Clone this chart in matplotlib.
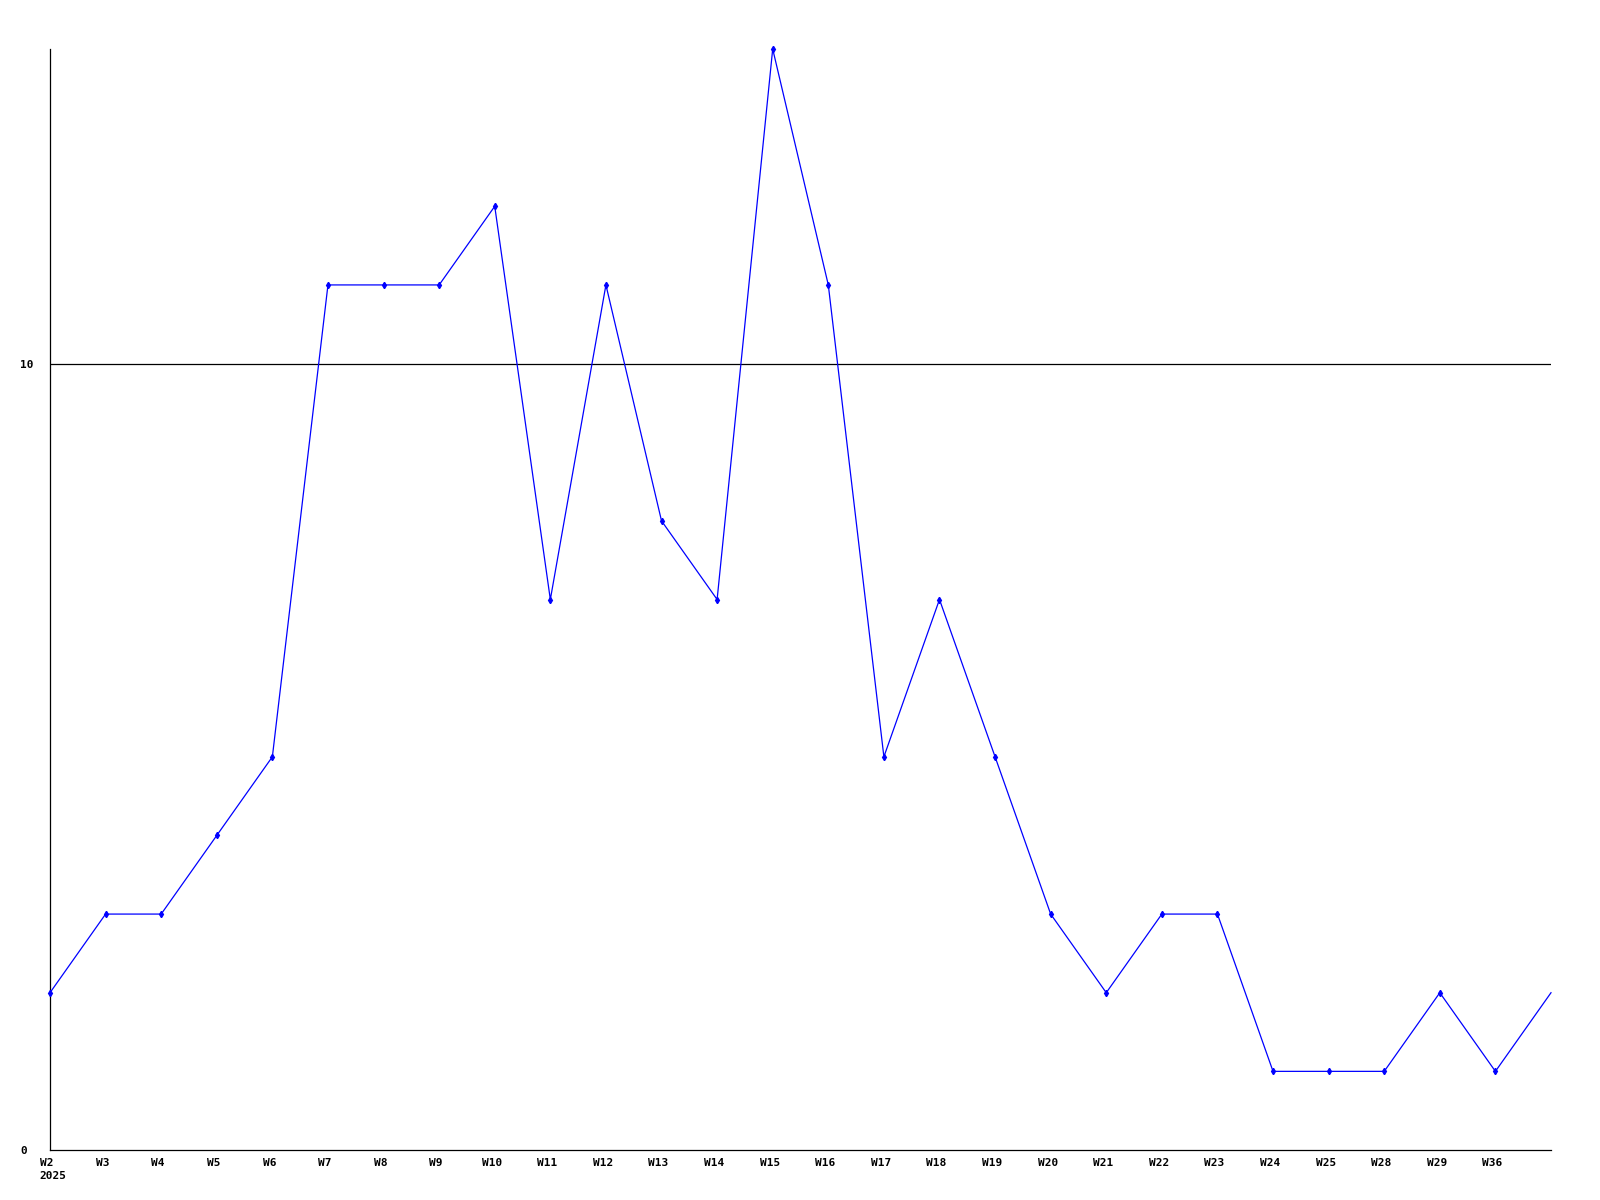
import matplotlib
matplotlib.use('Agg')
import matplotlib.pyplot as plt
import numpy as np

# --- データ ---
WEEK_LABELS = ['W2', 'W3', 'W4', 'W5', 'W6', 'W7', 'W8', 'W9', 'W10', 'W11',
               'W12', 'W13', 'W14', 'W15', 'W16', 'W17', 'W18', 'W19', 'W20',
               'W21', 'W22', 'W23', 'W24', 'W25', 'W28', 'W29', 'W36']
COUNTS = [2, 3, 3, 4, 5, 11, 11, 11, 12, 7, 11, 8, 7, 14, 11, 5, 7, 5, 3,
          2, 3, 3, 1, 1, 1, 2, 1, 2]  # 最後の点は右端（ラベルなし）
YEAR_LABEL = '2025'
Y_TICKS = [0, 10]
Y_MAX = 14

FONT = {'family': 'DejaVu Sans Mono', 'weight': 'bold', 'size': 8}


def main():
    fig = plt.figure(figsize=(16, 12), dpi=100)
    ax = fig.add_axes([50 / 1600, 50 / 1200, 1501 / 1600, 1101 / 1200])

    x = np.arange(len(COUNTS))
    ax.plot(x, COUNTS, color='#0000ff', linewidth=0.9,
            marker='d', markersize=3.2, markevery=slice(0, len(WEEK_LABELS)),
            clip_on=False, zorder=3)

    ax.axhline(10, color='black', linewidth=0.9, zorder=2)

    ax.set_xlim(0, len(COUNTS) - 1)
    ax.set_ylim(0, Y_MAX)

    for side in ['top', 'right']:
        ax.spines[side].set_visible(False)
    for side in ['left', 'bottom']:
        ax.spines[side].set_linewidth(0.9)
        ax.spines[side].set_color('black')

    ax.set_xticks(x[:len(WEEK_LABELS)])
    ax.set_xticklabels(WEEK_LABELS, fontdict=FONT)
    ax.tick_params(axis='x', length=0, pad=6)
    for lbl in ax.get_xticklabels():
        lbl.set_x(lbl.get_position()[0])
        lbl.set_transform(lbl.get_transform() +
                          matplotlib.transforms.ScaledTranslation(-3 / 100, 0, fig.dpi_scale_trans))

    ax.set_yticks(Y_TICKS)
    ax.set_yticklabels([str(v) for v in Y_TICKS], fontdict=FONT)
    ax.tick_params(axis='y', length=0, pad=21.5)
    for lbl in ax.get_yticklabels():
        lbl.set_horizontalalignment('left')

    # 年ラベル
    ax.annotate(YEAR_LABEL, xy=(0, 0), xycoords='data',
                xytext=(-11, -21), textcoords='offset pixels',
                ha='left', va='top', **FONT)

    fig.savefig('out.png', dpi=100, facecolor='white')
    plt.close(fig)


if __name__ == '__main__':
    main()
